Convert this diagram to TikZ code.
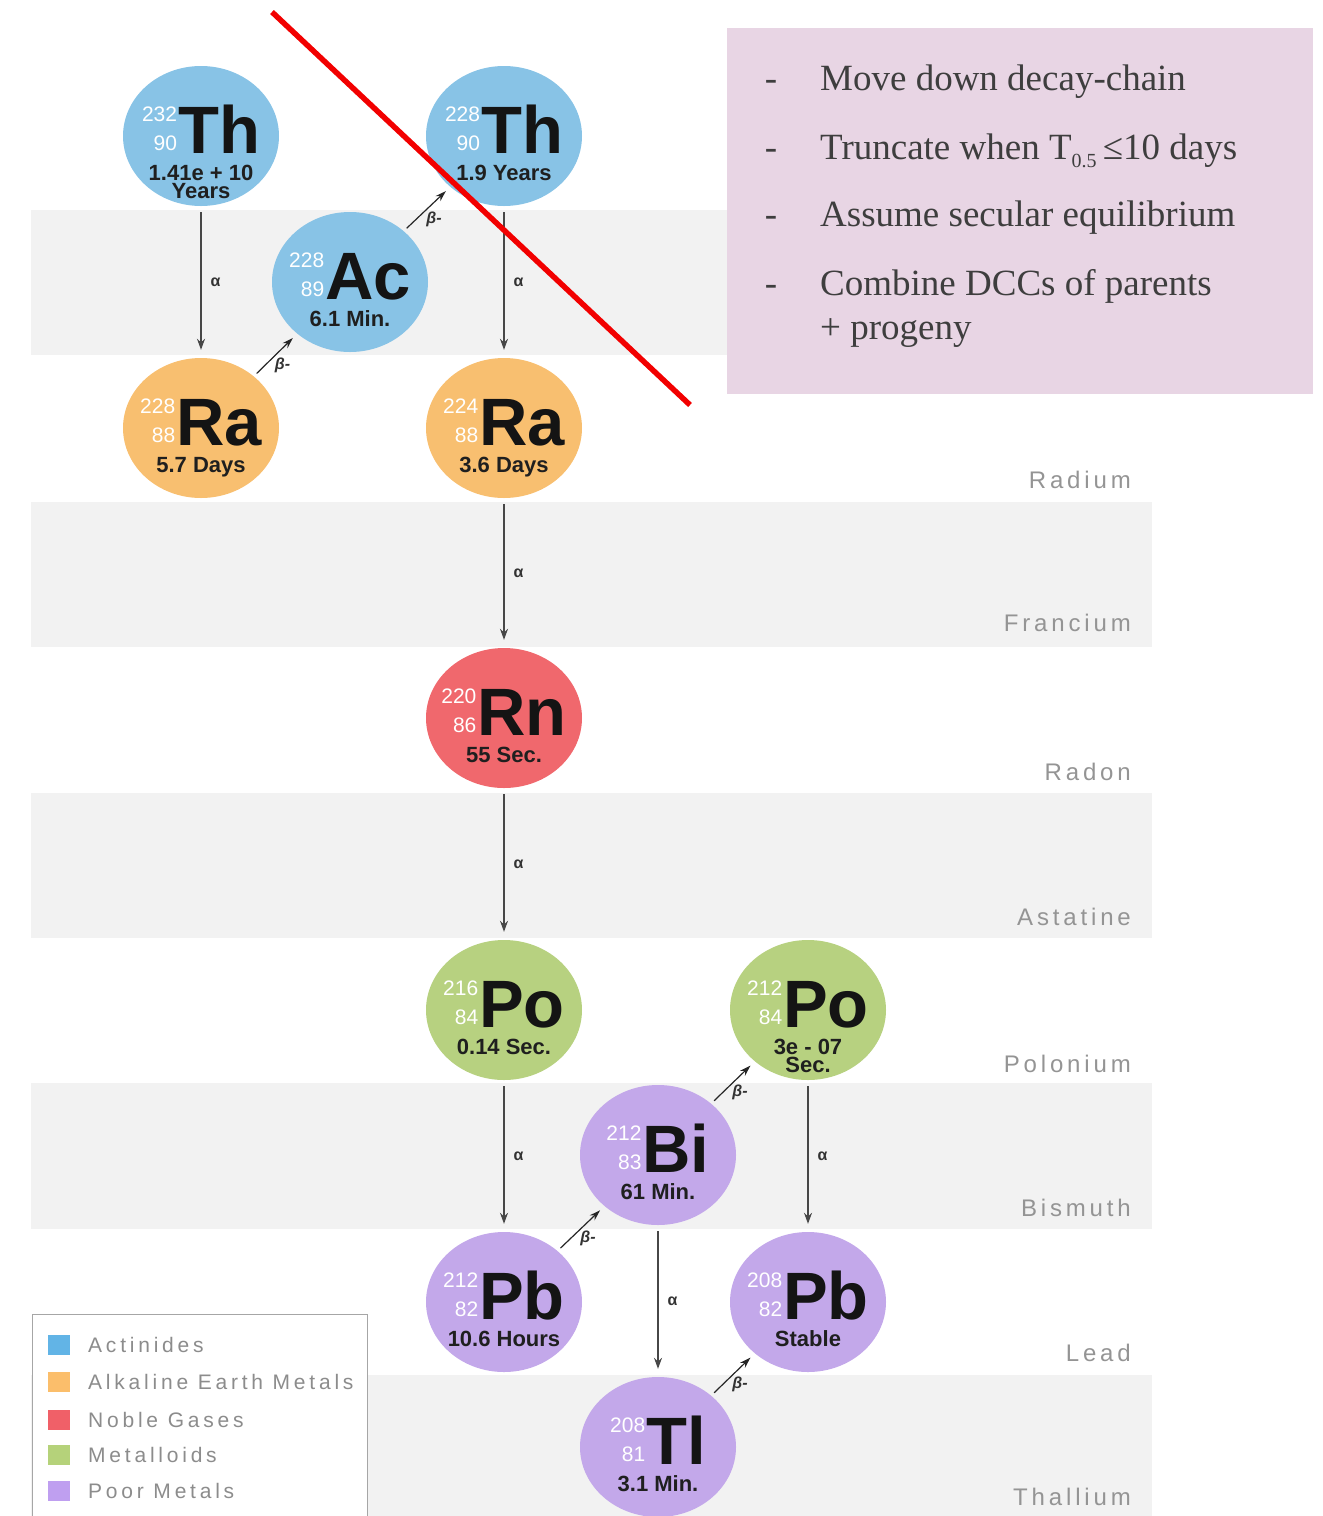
\documentclass[tikz,border=0pt]{standalone}
\usepackage{fontspec}
\setmainfont{Liberation Serif}
\setsansfont{Liberation Sans}
\newfontfamily\LblFamily{Liberation Sans}[LetterSpace=16]
\newfontfamily\LegFamily{Liberation Sans}[LetterSpace=18]
\usetikzlibrary{shapes.geometric,arrows.meta}
\definecolor{bandgray}{HTML}{F2F2F2}
\definecolor{pinkbg}{HTML}{E8D5E4}
\definecolor{cBlue}{HTML}{88C3E6}
\definecolor{cOrange}{HTML}{F8BF70}
\definecolor{cRed}{HTML}{F0686D}
\definecolor{cGreen}{HTML}{B7D180}
\definecolor{cPurple}{HTML}{C3A8EA}
\definecolor{lBlue}{HTML}{62B4E6}
\definecolor{lOrange}{HTML}{FBBE6B}
\definecolor{lRed}{HTML}{F06068}
\definecolor{lGreen}{HTML}{B5D27A}
\definecolor{lPurple}{HTML}{BF9FF0}
\definecolor{boxtext}{HTML}{3E3E3E}
\definecolor{slashred}{HTML}{F20000}
\newcommand\ElemFont{\fontsize{67}{67}\selectfont\sffamily\bfseries}
\newcommand\MassFont{\fontsize{21}{29}\selectfont\sffamily}
\newcommand\HalfFont{\fontsize{22}{22}\selectfont\sffamily\bfseries}
\newcommand\MassZ[2]{\raisebox{3pt}[\height][0pt]{\color{white}\MassFont\begin{tabular}[b]{@{}r@{}}#1\\#2\end{tabular}}}
\newcommand\Iso[8]{%
  \node[nuc, fill=#4] (#1) at (#2,#3) {};
  \node[symb] (#1s) at ([yshift=-17pt]#1.center) {\MassZ{#5}{#6}\kern1pt{\ElemFont #7}};
  \node[hl] (#1h) at ([yshift=-44pt]#1.center) {#8};
}
\begin{document}
\begin{tikzpicture}[x=1pt,y=-1pt,
  nuc/.style={ellipse, minimum width=156pt, minimum height=140pt, inner sep=0pt, draw=none},
  symb/.style={anchor=base, inner sep=0pt, text=black!92},
  hl/.style={anchor=base, inner sep=0pt, font=\HalfFont, text=black!88},
  aarr/.style={draw=black!72, line width=1.3pt, -{Stealth[length=11pt,width=8pt]}, shorten <=6pt, shorten >=8pt},
  barr/.style={draw=black!85, line width=1.2pt, -{Stealth[length=11pt,width=7pt]}, shorten <=4pt, shorten >=6pt},
  alab/.style={font=\fontsize{16}{16}\selectfont\sffamily\bfseries, text=black!80, inner sep=0pt},
  blab/.style={font=\fontsize{16}{16}\selectfont\sffamily\bfseries\itshape, text=black!80, inner sep=0pt},
  band/.style={fill=bandgray, draw=none},
  rowlab/.style={anchor=base east, font=\fontsize{24}{24}\selectfont\LblFamily, text=black!42, inner sep=0pt},
  leglab/.style={anchor=west, font=\fontsize{21}{21}\selectfont\LegFamily, text=black!45, inner sep=0pt},
  legsq/.style={minimum width=22pt, minimum height=20pt, inner sep=0pt, draw=none},
  boxline/.style={anchor=base west, font=\fontsize{37}{37}\selectfont\rmfamily, text=boxtext, inner sep=0pt},
  boxdash/.style={anchor=base, font=\fontsize{37}{37}\selectfont\rmfamily, text=boxtext, inner sep=0pt}
]
\useasboundingbox (0,0) rectangle (1323,1516);
% background bands
\fill[band] (31,210) rectangle (1152,355);
\fill[band] (31,502) rectangle (1152,647);
\fill[band] (31,793) rectangle (1152,938);
\fill[band] (31,1083) rectangle (1152,1229);
\fill[band] (31,1375) rectangle (1152,1516);
% row labels
\node[rowlab] (lRa) at (1131,488) {Radium};
\node[rowlab] (lFr) at (1131,631) {Francium};
\node[rowlab] (lRn) at (1131,780) {Radon};
\node[rowlab] (lAt) at (1131,925) {Astatine};
\node[rowlab] (lPo) at (1131,1072) {Polonium};
\node[rowlab] (lBi) at (1131,1216) {Bismuth};
\node[rowlab] (lPb) at (1131,1361) {Lead};
\node[rowlab] (lTl) at (1131,1505) {Thallium};
% isotopes
\Iso{ThA}{201}{136}{cBlue}{232}{90}{Th}{1.41e + 10}
\node[hl] (ThAh2) at ([yshift=-62pt]ThA.center) {Years};
\Iso{Ac}{350}{282}{cBlue}{228}{89}{Ac}{6.1 Min.}
\Iso{ThB}{504}{136}{cBlue}{228}{90}{Th}{1.9 Years}
\Iso{RaA}{201}{428}{cOrange}{228}{88}{Ra}{5.7 Days}
\Iso{RaB}{504}{428}{cOrange}{224}{88}{Ra}{3.6 Days}
\Iso{Rn}{504}{718}{cRed}{220}{86}{Rn}{55 Sec.}
\Iso{PoA}{504}{1010}{cGreen}{216}{84}{Po}{0.14 Sec.}
\Iso{PoB}{808}{1010}{cGreen}{212}{84}{Po}{3e - 07}
\node[hl] (PoBh2) at ([yshift=-62pt]PoB.center) {Sec.};
\Iso{Bi}{658}{1155}{cPurple}{212}{83}{Bi}{61 Min.}
\Iso{PbA}{504}{1302}{cPurple}{212}{82}{Pb}{10.6 Hours}
\Iso{PbB}{808}{1302}{cPurple}{208}{82}{Pb}{Stable}
\Iso{Tl}{658}{1447}{cPurple}{208}{81}{Tl}{3.1 Min.}
% alpha decays
\draw[aarr] (ThA) -- node[alab, right=9pt] {α} (RaA);
\draw[aarr] (ThB) -- node[alab, right=9pt] {α} (RaB);
\draw[aarr] (RaB) -- node[alab, right=9pt] {α} (Rn);
\draw[aarr] (Rn) -- node[alab, right=9pt] {α} (PoA);
\draw[aarr] (PoA) -- node[alab, right=9pt] {α} (PbA);
\draw[aarr] (PoB) -- node[alab, right=9pt] {α} (PbB);
\draw[aarr] (Bi) -- node[alab, right=9pt] {α} (Tl);
% beta decays
\draw[barr] (RaA) -- node[blab, xshift=7pt, yshift=-10pt] {β-} (Ac);
\draw[barr] (Ac) -- node[blab, xshift=7pt, yshift=-10pt] {β-} (ThB);
\draw[barr] (PbA) -- node[blab, xshift=7pt, yshift=-10pt] {β-} (Bi);
\draw[barr] (Bi) -- node[blab, xshift=7pt, yshift=-10pt] {β-} (PoB);
\draw[barr] (Tl) -- node[blab, xshift=7pt, yshift=-10pt] {β-} (PbB);
% legend
\node[draw=black!35, line width=0.8pt, fill=white, minimum width=335pt, minimum height=240pt, anchor=north west, inner sep=0pt] (legend) at (32,1314) {};
\node[legsq, fill=lBlue] (sq1) at (59,1345) {};
\node[legsq, fill=lOrange] (sq2) at (59,1382) {};
\node[legsq, fill=lRed] (sq3) at (59,1420) {};
\node[legsq, fill=lGreen] (sq4) at (59,1455) {};
\node[legsq, fill=lPurple] (sq5) at (59,1491) {};
\node[leglab] (t1) at (88,1345) {Actinides};
\node[leglab] (t2) at (88,1382) {Alkaline Earth Metals};
\node[leglab] (t3) at (88,1420) {Noble Gases};
\node[leglab] (t4) at (88,1455) {Metalloids};
\node[leglab] (t5) at (88,1491) {Poor Metals};
% pink box
\node[fill=pinkbg, draw=none, minimum width=586pt, minimum height=366pt, anchor=north west, inner sep=0pt] (box) at (727,28) {};
\node[boxdash] (d1) at (771,90) {-};
\node[boxdash] (d2) at (771,159) {-};
\node[boxdash] (d3) at (771,226) {-};
\node[boxdash] (d4) at (771,295) {-};
\node[boxline] (b1) at (820,90) {Move down decay-chain};
\node[boxline] (b2) at (820,159) {Truncate when T\raisebox{-8pt}{\fontsize{20}{20}\selectfont 0.5}\,≤10 days};
\node[boxline] (b3) at (820,226) {Assume secular equilibrium};
\node[boxline] (b4) at (820,295) {Combine DCCs of parents};
\node[boxline] (b5) at (820,339) {+ progeny};
% red strike line
\coordinate (s1) at (272,12);
\coordinate (s2) at (690,405);
\draw[slashred, line width=5.5pt] (s1) -- (s2);
\end{tikzpicture}
\end{document}
